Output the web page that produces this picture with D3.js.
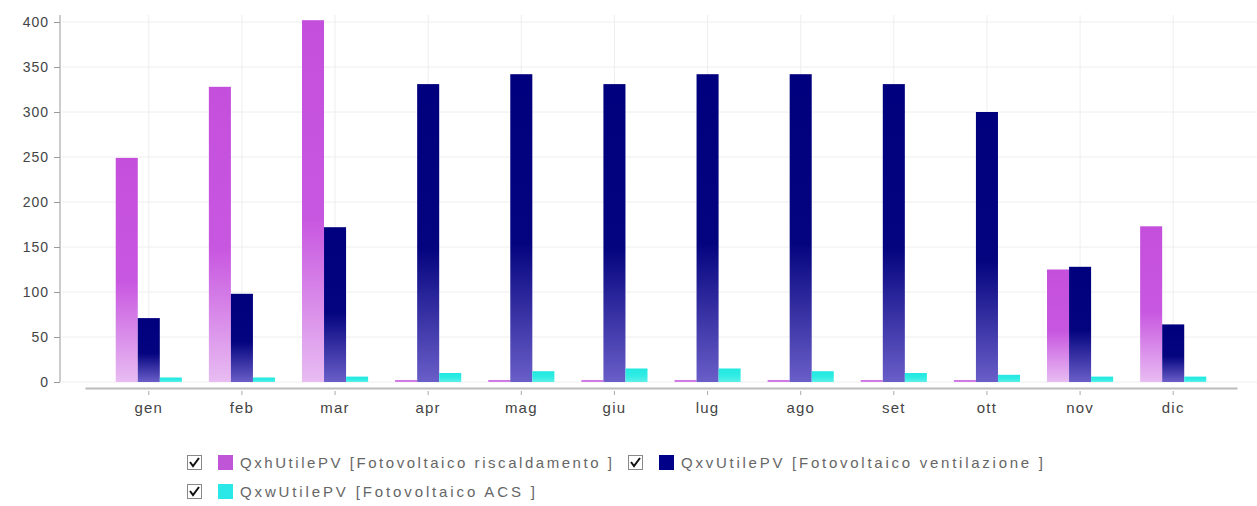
<!DOCTYPE html>
<html>
<head>
<meta charset="utf-8">
<script src="https://cdn.jsdelivr.net/npm/d3@7"></script>
<style>
  html, body { margin: 0; padding: 0; background: #fff; }
  svg { display: block; font-family: "Liberation Sans", Arial, sans-serif; }
</style>
</head>
<body>
<svg id="chart" width="1257" height="506"></svg>
<script>
// Monthly photovoltaic useful energy by end use
const months = ["gen", "feb", "mar", "apr", "mag", "giu", "lug", "ago", "set", "ott", "nov", "dic"];
const riscaldamento = [249, 328, 402, 2, 2, 2, 2, 2, 2, 2, 125, 173];
const ventilazione = [71, 98, 172, 331, 342, 331, 342, 342, 331, 300, 128, 64];
const acs = [5, 5, 6, 10, 12, 15, 15, 12, 10, 8, 6, 6];
const yTicks = [0, 50, 100, 150, 200, 250, 300, 350, 400];
const seriesNames = [
  "QxhUtilePV [Fotovoltaico riscaldamento ]",
  "QxvUtilePV [Fotovoltaico ventilazione ]",
  "QxwUtilePV [Fotovoltaico ACS ]"
];

const series = [
  { key: "h", name: seriesNames[0], values: riscaldamento, top: "#c44fdc", mid: "#c857e0", bottom: "#e8bcf2", swatch: "#c055d8" },
  { key: "v", name: seriesNames[1], values: ventilazione, top: "#00007e", mid: "#04047f", bottom: "#6a5ec8", swatch: "#000088" },
  { key: "w", name: seriesNames[2], values: acs, top: "#22e8e0", mid: "#30ece4", bottom: "#5ef0e8", swatch: "#2ae8e8" }
];

const svg = d3.select("#chart");
const plot = { left: 60, right: 1257, top: 15, zeroY: 382, axisY: 388, xStart: 85, xEnd: 1237 };

const y = d3.scaleLinear().domain([0, 400]).range([plot.zeroY, 22]);
const x0 = d3.scaleBand().domain(months).range([plot.xStart, plot.xEnd]).paddingInner(0.29).paddingOuter(0.33);
const x1 = d3.scaleBand().domain(series.map(s => s.key)).range([0, x0.bandwidth()]);

// gradients for bar fills
const defs = svg.append("defs");
series.forEach(s => {
  const g = defs.append("linearGradient").attr("id", "grad-" + s.key)
    .attr("x1", 0).attr("y1", 0).attr("x2", 0).attr("y2", 1);
  g.append("stop").attr("offset", "0").attr("stop-color", s.top);
  g.append("stop").attr("offset", "0.55").attr("stop-color", s.mid);
  g.append("stop").attr("offset", "1").attr("stop-color", s.bottom);
});

// grid
const grid = svg.append("g");
grid.selectAll("line.h").data(yTicks).join("line")
  .attr("x1", plot.left + 2).attr("x2", plot.right)
  .attr("y1", d => y(d)).attr("y2", d => y(d))
  .attr("stroke", "#eeeeee").attr("stroke-width", 1);
grid.selectAll("line.v").data(months).join("line")
  .attr("x1", d => x0(d) + x0.bandwidth() / 2).attr("x2", d => x0(d) + x0.bandwidth() / 2)
  .attr("y1", plot.top).attr("y2", plot.zeroY)
  .attr("stroke", "#eeeeee").attr("stroke-width", 1);

// bars
const groups = svg.append("g").selectAll("g").data(months).join("g")
  .attr("transform", d => `translate(${x0(d)},0)`);
groups.selectAll("rect").data((m, i) => series.map(s => ({ s, v: s.values[i] }))).join("rect")
  .attr("x", d => x1(d.s.key))
  .attr("width", x1.bandwidth())
  .attr("y", d => y(d.v))
  .attr("height", d => y(0) - y(d.v))
  .attr("fill", d => `url(#grad-${d.s.key})`);

// y axis
const yAxis = svg.append("g").attr("transform", `translate(${plot.left},0)`)
  .call(d3.axisLeft(y).tickValues(yTicks).tickSize(6).tickPadding(5));
yAxis.select(".domain").attr("d", `M0,${plot.top}V${plot.zeroY}`).attr("stroke", "#999");
yAxis.selectAll(".tick line").attr("stroke", "#999");
yAxis.selectAll("text").attr("fill", "#444").style("font-size", "14px").style("letter-spacing", "1px");

// x axis
const xAxis = svg.append("g").attr("transform", `translate(0,${plot.axisY})`)
  .call(d3.axisBottom(x0).tickSize(4).tickPadding(10).tickSizeOuter(0));
xAxis.select(".domain").attr("stroke", "#bbbbbb").attr("stroke-width", 2);
xAxis.selectAll(".tick line").attr("stroke", "#aaa").attr("transform", "translate(0,3)");
xAxis.selectAll("text").attr("fill", "#444").style("font-size", "15px").style("letter-spacing", "1.2px");

// legend
const legendItems = [
  { s: series[0], x: 187, y: 463 },
  { s: series[1], x: 628, y: 463 },
  { s: series[2], x: 187, y: 492 }
];
const legend = svg.append("g").selectAll("g").data(legendItems).join("g")
  .attr("transform", d => `translate(${d.x},${d.y})`);
legend.append("rect").attr("x", 0.5).attr("y", -7.5).attr("width", 14).attr("height", 14)
  .attr("fill", "#fff").attr("stroke", "#888").attr("stroke-width", 1);
legend.append("path").attr("d", "M3,-1 L6,3 L12,-5")
  .attr("fill", "none").attr("stroke", "#111").attr("stroke-width", 2);
legend.append("rect").attr("x", 31).attr("y", -8).attr("width", 15).attr("height", 15)
  .attr("fill", d => d.s.swatch);
legend.append("text").attr("x", 53).attr("y", 5)
  .attr("fill", "#666").style("font-size", "15px")
  .attr("textLength", (d, i) => [372, 362, 295][i]).attr("lengthAdjust", "spacing")
  .text(d => d.s.name);
</script>
</body>
</html>
